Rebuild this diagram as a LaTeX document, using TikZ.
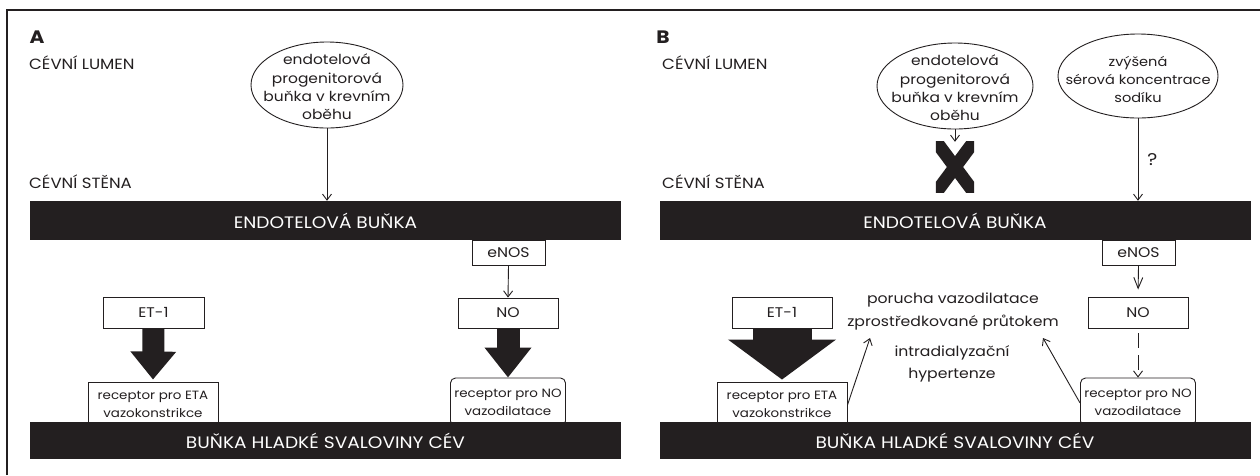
\documentclass[tikz,border=0pt]{standalone}
\usepackage{fontspec}
\setmainfont{Poppins}[FakeStretch=1.12]
\usetikzlibrary{shapes.geometric,arrows.meta,calc}
\definecolor{ink}{RGB}{35,31,32}
\begin{document}
\begin{tikzpicture}[x=1pt,y=-1pt,
  every node/.style={text=ink, inner sep=0pt},
  lbl/.style={font=\fontsize{14.8}{16}\selectfont, anchor=west},
  panel/.style={font=\bfseries\fontsize{18}{20}\selectfont},
  bar/.style={fill=ink, draw=none, minimum width=591pt, minimum height=39pt},
  bartext/.style={text=white, font=\fontsize{16.6}{19}\selectfont},
  ell/.style={ellipse, draw=ink, line width=0.9pt},
  etext/.style={align=center, font=\fontsize{13.8}{18.3}\selectfont},
  sbox/.style={rectangle, draw=ink, line width=0.9pt, fill=white, font=\fontsize{14}{16}\selectfont},
  rbox/.style={rectangle, draw=ink, line width=0.9pt, fill=white, align=center, font=\fontsize{12}{18}\selectfont, minimum height=44pt},
  thin/.style={draw=ink, line width=0.9pt, -{Straight Barb[length=6pt,width=9pt]}},
  blk/.style={draw=ink, line width=#1}
]
\useasboundingbox (0,0) rectangle (1260,475);
\fill[white] (0,0) rectangle (1260,475);
\draw[ink, line width=2pt] (7,475) -- (7,10) -- (1260,10);

% ---------------- Panel A ----------------
\node[panel] (pA) at (37,37) {A};
\node[lbl] (lumA) at (29,63) {CÉVNÍ LUMEN};
\node[lbl] (stenA) at (29,182) {CÉVNÍ STĚNA};

\node[ell, minimum width=152pt, minimum height=86pt] (epcA) at (327,85) {};
\node[etext] (epcAt) at (327,87) {endotelová\\progenitorová\\buňka v krevním\\oběhu};

\node[sbox, minimum width=73pt, minimum height=25pt] (enosA) at (508.5,252.5) {eNOS};
\node[sbox, minimum width=100pt, minimum height=30pt] (noA) at (508,313) {NO};
\node[sbox, minimum width=101pt, minimum height=31pt] (etA) at (153.5,312.5) {ET-1};
\node[rbox, minimum width=130pt] (recA) at (153,404) {receptor pro ETA\\vazokonstrikce};
\node[rbox, minimum width=115pt, rounded corners=5pt, minimum height=48pt] (recnoA) at (508,402) {receptor pro NO\\vazodilatace};

\node[bar] (endoA) at (325.5,220.5) {};
\node[bartext] (endoAt) at (endoA.center) {ENDOTELOVÁ BUŇKA};
\node[bar, minimum height=37pt] (smcA) at (325.5,440.5) {};
\node[bartext] (smcAt) at (smcA.center) {BUŇKA HLADKÉ SVALOVINY CÉV};

\draw[thin] (epcA.south) -- (endoA.north -| epcA.south);
\draw[thin] (enosA.south) -- (noA.north);
\draw[blk=22pt, -{Triangle[length=28pt,width=44pt]}] (etA.south) -- ($(recA.north)+(0,-2)$);
\draw[blk=23pt, -{Triangle[length=30pt,width=45pt]}] (noA.south) -- (recnoA.north);

% ---------------- Panel B ----------------
\node[panel] (pB) at (663,37) {B};
\node[lbl] (lumB) at (662,63) {CÉVNÍ LUMEN};
\node[lbl] (stenB) at (662,182) {CÉVNÍ STĚNA};

\node[ell, minimum width=156pt, minimum height=86pt] (epcB) at (955,86) {};
\node[etext] (epcBt) at (955,88) {endotelová\\progenitorová\\buňka v krevním\\oběhu};
\node[ell, minimum width=160pt, minimum height=84pt] (naB) at (1138,76) {};
\node[etext, font=\fontsize{13}{18}\selectfont] (naBt) at (1138,79) {zvýšená\\sérová koncentrace\\sodíku};

\node[minimum width=38pt, minimum height=50pt] (xB) at (955,167) {};
\begin{scope}
  \clip (xB.north west) rectangle (xB.south east);
  \draw[ink, line width=13pt] ($(xB.north west)+(-4,-6)$) -- ($(xB.south east)+(4,6)$);
  \draw[ink, line width=13pt] ($(xB.north east)+(4,-6)$) -- ($(xB.south west)+(-4,6)$);
\end{scope}

\node[sbox, minimum width=73pt, minimum height=25pt] (enosB) at (1138.5,252.5) {eNOS};
\node[sbox, minimum width=100pt, minimum height=31pt] (noB) at (1138,312.5) {NO};
\node[sbox, minimum width=100pt, minimum height=31pt] (etB) at (782,312.5) {ET-1};
\node[rbox, minimum width=130pt] (recB) at (782,404) {receptor pro ETA\\vazokonstrikce};
\node[rbox, minimum width=115pt, rounded corners=5pt, minimum height=48pt] (recnoB) at (1138,402) {receptor pro NO\\vazodilatace};

\node[bar] (endoB) at (955,220.5) {};
\node[bartext] (endoBt) at (endoB.center) {ENDOTELOVÁ BUŇKA};
\node[bar, minimum height=37pt] (smcB) at (955,440.5) {};
\node[bartext] (smcBt) at (smcB.center) {BUŇKA HLADKÉ SVALOVINY CÉV};

\node[align=center, font=\fontsize{14}{23}\selectfont] (fmd) at (953,311) {porucha vazodilatace\\zprostředkované průtokem};
\node[align=center, font=\fontsize{14}{22}\selectfont] (idh) at (952,364) {intradialyzační\\hypertenze};
\coordinate (fmdL) at (870,338);
\coordinate (fmdR) at (1043,338);

\draw[thin] (epcB.south) -- (xB.north);
\draw[thin] (naB.south) -- node[right=9pt, font=\fontsize{17}{19}\selectfont] (q) {?} (endoB.north -| naB.south);
\draw[thin, -{Straight Barb[length=11pt,width=9pt]}, shorten >=7pt] (enosB.south) -- (noB.north);
\draw[thin, dash pattern=on 15pt off 7pt, dash phase=-5pt] (noB.south) -- (recnoB.north);
\draw[blk=59pt, -{Triangle[length=40pt,width=106pt]}] (etB.south) -- ($(recB.north)+(0,-2)$);
\draw[thin] ($(recB.east)+(0,1)$) -- (fmdL);
\draw[thin] ($(recnoB.west)+(0,1)$) -- (fmdR);
\end{tikzpicture}
\end{document}
